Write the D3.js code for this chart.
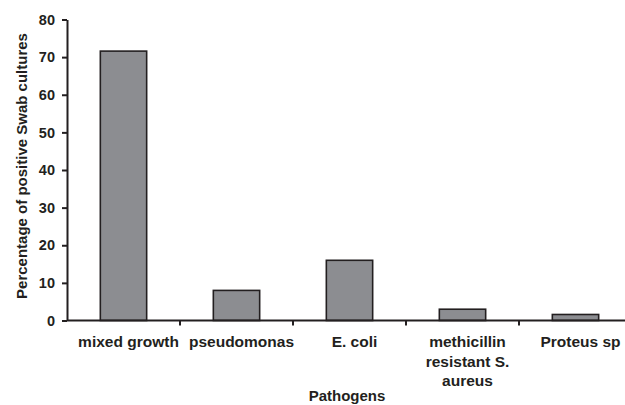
<!DOCTYPE html>
<html lang="en">
<head>
  <meta charset="UTF-8" />
  <title>Pathogens</title>
  <script src="https://cdn.jsdelivr.net/npm/d3@7"></script>
  <style>
    body {
      margin: 0;
      background: #fff;
    }
    svg {
      display: block;
      font-family: "Liberation Sans", Arial, sans-serif;
      font-weight: bold;
    }
  </style>
</head>
<body>
  <div id="chart"></div>

  <script>
    const pathogens = ["mixed growth", "pseudomonas", "E. coli", "methicillin resistant S. aureus", "Proteus sp"];
    const labelLines = [["mixed growth"], ["pseudomonas"], ["E. coli"], ["methicillin", "resistant S.", "aureus"], ["Proteus sp"]];
    const percentages = [71.6, 8, 16, 3, 1.6];
    const yTicks = [0, 10, 20, 30, 40, 50, 60, 70, 80];

    const width = 625;
    const height = 405;
    const x0 = 67, y0 = 320.5, yTop = 19.5;
    const ink = "#231f20";

    const svg = d3.select("#chart")
      .append("svg")
      .attr("width", width)
      .attr("height", height);

    const xScale = d3.scaleBand()
      .domain(pathogens)
      .range([x0, x0 + 565])
      .paddingInner(0.59)
      .paddingOuter(0.295);

    const yScale = d3.scaleLinear()
      .domain([0, 80])
      .range([y0, yTop]);

    // bars
    svg.selectAll(".bar")
      .data(percentages)
      .enter()
      .append("rect")
      .attr("class", "bar")
      .attr("x", (d, i) => xScale(pathogens[i]))
      .attr("y", d => yScale(d))
      .attr("width", xScale.bandwidth())
      .attr("height", d => y0 - yScale(d))
      .attr("fill", "#8c8d91")
      .attr("stroke", ink)
      .attr("stroke-width", 1.6);

    // y axis
    const yAxis = svg.append("g")
      .attr("transform", `translate(${x0}, 0)`)
      .call(d3.axisLeft(yScale).tickValues(yTicks).tickSize(5).tickPadding(7).tickSizeOuter(0));
    yAxis.select(".domain").attr("stroke", ink).attr("stroke-width", 2);
    yAxis.selectAll(".tick line").attr("stroke", ink).attr("stroke-width", 2);
    yAxis.selectAll(".tick text")
      .attr("fill", ink)
      .style("font-size", "14.5px")
      .style("font-weight", "bold")
      .style("font-family", "'Liberation Sans', Arial, sans-serif");

    // x axis: line with ticks at category boundaries
    svg.append("line")
      .attr("x1", x0).attr("x2", width)
      .attr("y1", y0).attr("y2", y0)
      .attr("stroke", ink).attr("stroke-width", 2);

    const step = xScale.step();
    const bounds = pathogens.slice(1).map(p => xScale(p) - step * xScale.paddingInner() / 2);
    svg.selectAll(".xtick")
      .data(bounds)
      .enter()
      .append("line")
      .attr("x1", d => d).attr("x2", d => d)
      .attr("y1", y0).attr("y2", y0 + 5)
      .attr("stroke", ink).attr("stroke-width", 2);

    // category labels (sit a little right of the bar centres, as in the original)
    const labels = svg.selectAll(".xlabel")
      .data(labelLines)
      .enter()
      .append("text")
      .attr("class", "xlabel")
      .attr("text-anchor", "middle")
      .attr("fill", ink)
      .style("font-size", "15.5px")
      .attr("x", (d, i) => xScale(pathogens[i]) + xScale.bandwidth() / 2 + 5)
      .attr("y", 347);
    labels.selectAll("tspan")
      .data(d => d)
      .enter()
      .append("tspan")
      .attr("x", function () { return this.parentNode.getAttribute("x"); })
      .attr("dy", (d, i) => i === 0 ? 0 : 19.5)
      .text(d => d);

    // axis titles
    svg.append("text")
      .attr("x", 347)
      .attr("y", 401)
      .attr("text-anchor", "middle")
      .attr("fill", ink)
      .style("font-size", "15px")
      .text("Pathogens");

    svg.append("text")
      .attr("transform", `translate(22, ${(y0 + yTop) / 2 - 4}) rotate(-90)`)
      .attr("dy", "0.35em")
      .attr("text-anchor", "middle")
      .attr("fill", ink)
      .style("font-size", "15px")
      .text("Percentage of positive Swab cultures");
  </script>
</body>
</html>
